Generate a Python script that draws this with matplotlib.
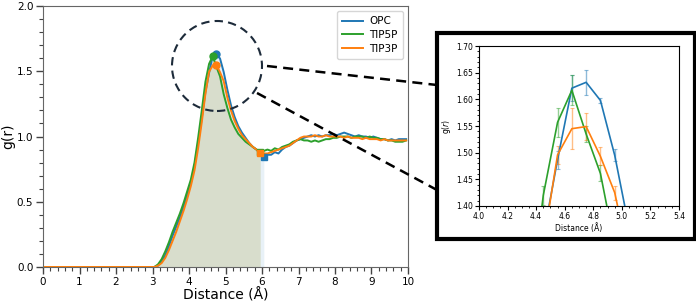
import numpy as np
import matplotlib
matplotlib.use("Agg")
import matplotlib.pyplot as plt
from matplotlib import patches
from matplotlib.lines import Line2D
from matplotlib.ticker import MultipleLocator

# ---- data ----
r = np.round(np.arange(0.05, 10.0, 0.1), 2)

opc = [0.0] * 30 + [
    0.00, 0.01, 0.04, 0.09, 0.16, 0.24, 0.31, 0.38, 0.46, 0.55,
    0.64, 0.77, 0.95, 1.14, 1.342, 1.487, 1.621, 1.632, 1.598, 1.495,
    1.36, 1.24, 1.15, 1.08, 1.03, 0.99, 0.95, 0.92, 0.90, 0.87,
    0.84, 0.86, 0.86, 0.88, 0.87, 0.90, 0.92, 0.93, 0.95, 0.97,
    0.98, 0.99, 1.00, 1.01, 1.00, 1.01, 1.00, 1.01, 1.01, 1.02,
    1.01, 1.02, 1.03, 1.02, 1.01, 1.00, 1.01, 1.00, 1.00, 0.99,
    1.00, 0.99, 0.98, 0.98, 0.97, 0.98, 0.97, 0.98, 0.98, 0.98]

tip5p = [0.0] * 30 + [
    0.00, 0.02, 0.06, 0.12, 0.19, 0.27, 0.34, 0.41, 0.49, 0.58,
    0.67, 0.80, 0.99, 1.20, 1.42, 1.557, 1.617, 1.535, 1.461, 1.325,
    1.22, 1.13, 1.07, 1.02, 0.99, 0.96, 0.94, 0.92, 0.90, 0.88,
    0.89, 0.90, 0.89, 0.91, 0.90, 0.92, 0.93, 0.94, 0.96, 0.97,
    0.98, 0.97, 0.97, 0.96, 0.97, 0.96, 0.97, 0.98, 0.98, 0.99,
    0.99, 1.00, 1.00, 1.00, 0.99, 1.00, 1.00, 1.00, 0.99, 1.00,
    0.99, 0.99, 0.98, 0.98, 0.97, 0.97, 0.96, 0.96, 0.96, 0.97]

tip3p = [0.0] * 30 + [
    0.00, 0.01, 0.03, 0.07, 0.13, 0.20, 0.27, 0.35, 0.43, 0.52,
    0.62, 0.74, 0.91, 1.11, 1.328, 1.496, 1.545, 1.549, 1.493, 1.425,
    1.30, 1.20, 1.12, 1.06, 1.01, 0.98, 0.95, 0.92, 0.90, 0.87,
    0.87, 0.87, 0.88, 0.89, 0.90, 0.91, 0.92, 0.93, 0.95, 0.97,
    0.99, 1.00, 1.00, 1.00, 1.01, 1.00, 1.00, 1.01, 1.00, 1.00,
    1.00, 1.00, 0.99, 1.00, 0.99, 0.99, 0.99, 0.98, 0.99, 0.98,
    0.98, 0.98, 0.97, 0.98, 0.97, 0.97, 0.97, 0.97, 0.97, 0.97]

# error bars for inset (half-widths) at r = 4.45 ... 4.95
r_err = [4.45, 4.55, 4.65, 4.75, 4.85, 4.95]
opc_err = [0.0, 0.017, 0.025, 0.024, 0.005, 0.011]
tip5p_err = [0.018, 0.027, 0.028, 0.015, 0.015, 0.0]
tip3p_err = [0.0, 0.017, 0.039, 0.025, 0.017, 0.013]

# peak (circle) and first-minimum (square) positions
peak_r = {"OPC": 4.75, "TIP5P": 4.65, "TIP3P": 4.75}
min_r = {"OPC": 6.05, "TIP5P": 5.95, "TIP3P": 5.95}

series = [("OPC", opc, opc_err, "#1f77b4"),
          ("TIP5P", tip5p, tip5p_err, "#2ca02c"),
          ("TIP3P", tip3p, tip3p_err, "#ff7f0e")]

# ---- figure ----
fig = plt.figure(figsize=(6.96, 3.07), dpi=100)
ax = fig.add_axes([0.0618, 0.1303, 0.5244, 0.850])

for name, g, err, c in series:
    g = np.asarray(g)
    ax.plot(r, g, color=c, lw=1.4, label=name, zorder=3)
    m = r <= min_r[name] + 1e-9
    ax.fill_between(r[m], 0, g[m], color=c, alpha=0.1, lw=0, zorder=1)

for name, g, err, c in series:
    g = np.asarray(g)
    ip = np.argmin(np.abs(r - peak_r[name]))
    im = np.argmin(np.abs(r - min_r[name]))
    ax.plot(r[ip], g[ip], "o", color=c, ms=5, zorder=4)
    ax.plot(r[im], g[im], "s", color=c, ms=5, zorder=4)

ax.set_xlim(0, 10)
ax.set_ylim(0, 2.0)
ax.xaxis.set_major_locator(MultipleLocator(1))
ax.xaxis.set_minor_locator(MultipleLocator(0.2))
ax.yaxis.set_major_locator(MultipleLocator(0.5))
ax.yaxis.set_minor_locator(MultipleLocator(0.1))
ax.tick_params(which="major", length=5, width=1.0, color="#444444",
               labelsize=7.5, pad=2)
ax.tick_params(which="minor", length=3, width=0.8, color="#444444")
for s in ax.spines.values():
    s.set_color("#666666")
ax.set_xlabel("Distance (Å)", fontsize=10, labelpad=1)
ax.set_ylabel("g(r)", fontsize=10, labelpad=1)
ax.legend(loc="upper right", fontsize=7.5, handlelength=2.0, borderpad=0.5,
          labelspacing=0.35, handletextpad=0.6)

# ---- inset ----
axi = fig.add_axes([0.6882, 0.329, 0.2874, 0.521])
for name, g, err, c in series:
    g = np.asarray(g)
    axi.plot(r, g, color=c, lw=1.2, zorder=3)
    idx = [int(np.argmin(np.abs(r - x))) for x in r_err]
    axi.errorbar(r[idx], g[idx], yerr=err, fmt="none", ecolor=c, alpha=0.5,
                 elinewidth=1.0, capsize=1.5, capthick=0.8, zorder=2)
axi.set_xlim(4.0, 5.4)
axi.set_ylim(1.40, 1.70)
axi.xaxis.set_major_locator(MultipleLocator(0.2))
axi.xaxis.set_minor_locator(MultipleLocator(0.05))
axi.yaxis.set_major_locator(MultipleLocator(0.05))
axi.yaxis.set_minor_locator(MultipleLocator(0.01))
axi.tick_params(which="major", length=3, width=0.8, labelsize=5.5, pad=1.5)
axi.tick_params(which="minor", length=1.5, width=0.6)
axi.set_yticklabels([f"{v:.2f}" for v in axi.get_yticks()])
axi.set_xlabel("Distance (Å)", fontsize=5.5, labelpad=1)
axi.set_ylabel("g($r$)", fontsize=5.5, labelpad=2)

# inset frame
fig.add_artist(patches.Rectangle((0.628, 0.2215), 0.3707, 0.671,
                                 transform=fig.transFigure, fill=False,
                                 ec="black", lw=3.0))

# dashed circle and connector lines
fig.add_artist(patches.Ellipse((217 / 696, 1 - 66 / 307), 90 / 696, 90 / 307,
                               transform=fig.transFigure, fill=False,
                               ec="#1d2b3a", lw=1.5, ls=(0, (4, 2.5)), zorder=6))
fig.add_artist(Line2D([267 / 696, 437 / 696], [1 - 66 / 307, 1 - 85 / 307],
                      transform=fig.transFigure, color="black", lw=1.8,
                      ls=(0, (4, 2.5)), zorder=6))
fig.add_artist(Line2D([257 / 696, 437 / 696], [1 - 93 / 307, 1 - 190 / 307],
                      transform=fig.transFigure, color="black", lw=1.8,
                      ls=(0, (4, 2.5)), zorder=6))

fig.savefig("out.png", dpi=100)
